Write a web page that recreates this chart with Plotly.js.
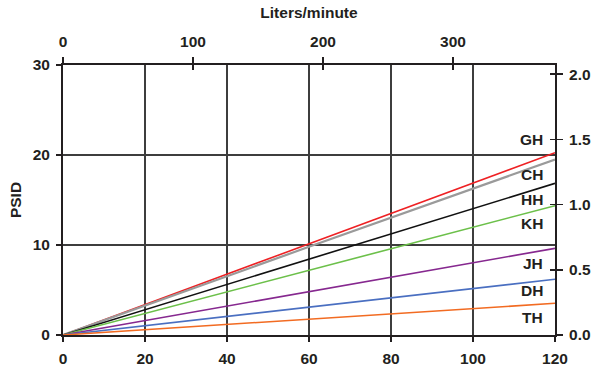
<!DOCTYPE html>
<html>
<head>
<meta charset="utf-8">
<script src="https://cdn.plot.ly/plotly-3.0.1.min.js"></script>
<style>html,body{margin:0;padding:0;background:#fff;}#chart{width:592px;height:391px;}</style>
</head>
<body>
<div id="chart"></div>
<script>
// Flow in GPM (bottom axis)
const flowGPM = [0, 60, 120];
// Pressure drop (PSID) per element series
const seriesNames = ["GH", "CH", "HH", "KH", "JH", "DH", "TH"];
const GH = [0, 10.1, 20.26];
const CH = [0, 9.8, 19.5];
const HH = [0, 8.44, 16.85];
const KH = [0, 7.2, 14.37];
const JH = [0, 4.8, 9.63];
const DH = [0, 3.1, 6.19];
const TH = [0, 1.78, 3.52];
const seriesColors = ["#ee2124", "#9a9a9a", "#111111", "#6cc04a", "#86288f", "#4a6fc1", "#f26b22"];
// Label positions (data coords) for series names
const labelX = 117.6;
const labelY = [21.7, 17.8, 15.1, 12.4, 8.0, 5.0, 2.0];
// Axis ticks
const bottomTicks = [0, 20, 40, 60, 80, 100, 120];
const leftTicks = [0, 10, 20, 30];
const topTicks = [0, 100, 200, 300];
const rightTicks = [0, 0.5, 1.0, 1.5, 2.0];
const rightTickText = ["0.0", "0.5", "1.0", "1.5", "2.0"];

const values = [GH, CH, HH, KH, JH, DH, TH];
const traces = values.map((v, i) => ({
  x: flowGPM, y: v, type: "scatter", mode: "lines",
  name: seriesNames[i], line: {color: seriesColors[i], width: i === 1 ? 2.2 : 1.6},
  hoverinfo: "skip", showlegend: false
}));
traces.push({x: [], y: [], xaxis: "x2", yaxis: "y2", type: "scatter", showlegend: false, hoverinfo: "skip"});
traces.push({x: [], y: [], xaxis: "x3", yaxis: "y3", type: "scatter", showlegend: false, hoverinfo: "skip"});

const txt = "#231f20";
const fnt = {family: "Liberation Sans, Arial, sans-serif", size: 15.5, color: txt, weight: "bold"};

const layout = {
  width: 592, height: 391,
  margin: {l: 63, r: 37, t: 65, b: 56},
  paper_bgcolor: "#fff", plot_bgcolor: "#fff",
  font: fnt,
  xaxis: {
    range: [0, 120], tickvals: bottomTicks, ticks: "outside", ticklen: 5, tickwidth: 1.5, tickcolor: txt,
    showgrid: true, gridcolor: "#3d3d3d", gridwidth: 1.5,
    showline: true, linecolor: txt, linewidth: 2, zeroline: false,
    tickfont: fnt, ticklabelstandoff: 3, fixedrange: true
  },
  yaxis: {
    range: [0, 30], tickvals: leftTicks, ticks: "outside", ticklen: 5, tickwidth: 1.5, tickcolor: txt,
    showgrid: true, gridcolor: "#3d3d3d", gridwidth: 1.5,
    showline: true, linecolor: txt, linewidth: 2, zeroline: false,
    tickfont: fnt, ticklabelstandoff: 3, title: {text: "PSID", font: fnt, standoff: 7}, fixedrange: true
  },
  xaxis2: {
    overlaying: "x", side: "top", anchor: "y", range: [0, 378.5], tickvals: topTicks,
    ticks: "outside", ticklen: 6, tickwidth: 1.5, tickcolor: txt,
    showgrid: false, showline: true, linecolor: txt, linewidth: 2, zeroline: false,
    tickfont: fnt, ticklabelstandoff: 4, title: {text: "Liters/minute", font: fnt, standoff: 10}, fixedrange: true
  },
  yaxis2: {
    overlaying: "y", side: "right", anchor: "x", range: [0, 2.07], tickvals: rightTicks, ticktext: rightTickText,
    ticks: "outside", ticklen: 6, tickwidth: 1.5, tickcolor: txt,
    showgrid: false, showline: true, linecolor: txt, linewidth: 2, zeroline: false,
    tickfont: fnt, ticklabelstandoff: 3, fixedrange: true
  },
  xaxis3: {
    overlaying: "x", side: "top", anchor: "y", range: [0, 378.5], tickvals: topTicks,
    ticks: "inside", ticklen: 5, tickwidth: 1.5, tickcolor: txt,
    showticklabels: false, showgrid: false, showline: false, zeroline: false, fixedrange: true
  },
  yaxis3: {
    overlaying: "y", side: "right", anchor: "x", range: [0, 2.07], tickvals: rightTicks,
    ticks: "inside", ticklen: 5, tickwidth: 1.5, tickcolor: txt,
    showticklabels: false, showgrid: false, showline: false, zeroline: false, fixedrange: true
  },
  annotations: seriesNames.map((n, i) => ({
    x: labelX, y: labelY[i], xref: "x", yref: "y", text: n, showarrow: false,
    xanchor: "right", yanchor: "middle", font: fnt
  })),
  showlegend: false
};

Plotly.newPlot("chart", traces, layout, {displayModeBar: false, staticPlot: true});
</script>
</body>
</html>
